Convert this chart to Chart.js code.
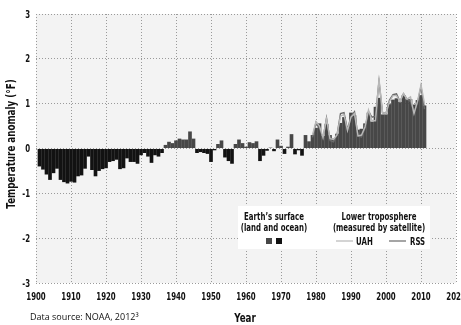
<!DOCTYPE html>
<html>
<head>
<meta charset="utf-8">
<script src="https://cdn.jsdelivr.net/npm/chart.js@4.4.0/dist/chart.umd.min.js"></script>
<style>
  html, body { margin: 0; padding: 0; background: #fff; }
  #wrap { width: 461px; height: 325px; }
</style>
</head>
<body>
<div id="wrap"><canvas id="chart"></canvas></div>
<script>
// Global temperature anomaly (°F) — surface bars + satellite troposphere lines

const FONT    = "'DejaVu Sans', sans-serif";
const SQUEEZE = 0.7;   // horizontal squeeze to fake a bold condensed face
const INK     = '#111';

// ── Data ─────────────────────────────────────────────────────────────────────

const surfaceStart = 1901;
const surfaceF = [
  -0.40, -0.47, -0.58, -0.70, -0.55, -0.45, -0.70, -0.75, -0.78, -0.74, // 1901-1910
  -0.76, -0.62, -0.60, -0.45, -0.18, -0.48, -0.62, -0.50, -0.46, -0.44, // 1911-1920
  -0.30, -0.28, -0.25, -0.46, -0.44, -0.22, -0.30, -0.30, -0.34, -0.15, // 1921-1930
  -0.10, -0.18, -0.32, -0.15, -0.18, -0.10,  0.08,  0.15,  0.12,  0.18, // 1931-1940
   0.22,  0.20,  0.20,  0.38,  0.22, -0.10, -0.08, -0.10, -0.12, -0.30, // 1941-1950
  -0.04,  0.10,  0.18, -0.20, -0.28, -0.34,  0.10,  0.20,  0.12,  0.04, // 1951-1960
   0.14,  0.12,  0.16, -0.28, -0.16, -0.05,  0.02, -0.06,  0.20,  0.06, // 1961-1970
  -0.12,  0.04,  0.32, -0.13, -0.04, -0.16,  0.30,  0.16,  0.30,  0.46, // 1971-1980
   0.56,  0.28,  0.55,  0.30,  0.22,  0.33,  0.57,  0.70,  0.49,  0.80, // 1981-1990
   0.74,  0.42,  0.44,  0.56,  0.80,  0.60,  0.93,  1.13,  0.76,  0.76, // 1991-2000
   0.99,  1.09,  1.12,  1.04,  1.19,  1.10,  1.10,  0.98,  1.08,  1.19, // 2001-2010
   0.96,                                                                 // 2011
];

const satStart = 1979;
const uahF = [
  0.30, 0.60, 0.50, 0.25, 0.66, 0.22, 0.20, 0.30, 0.72, 0.76, // 1979-1988
  0.40, 0.70, 0.78, 0.28, 0.30, 0.48, 0.86, 0.62, 0.62, 1.55, // 1989-1998
  0.80, 0.78, 1.05, 1.18, 1.18, 1.05, 1.22, 1.10, 1.15, 0.78, // 1999-2008
  1.05, 1.42, 1.00,                                           // 2009-2011
];
const rssF = [
  0.25, 0.58, 0.45, 0.22, 0.68, 0.18, 0.15, 0.30, 0.78, 0.80,
  0.42, 0.72, 0.82, 0.28, 0.26, 0.45, 0.82, 0.70, 0.72, 1.50,
  0.80, 0.78, 1.08, 1.20, 1.22, 1.05, 1.22, 1.10, 1.05, 0.80,
  1.02, 1.38, 0.88,
];

const xTicks = [1900, 1910, 1920, 1930, 1940, 1950, 1960, 1970, 1980, 1990, 2000, 2010, 2020];
const yTicks = [-3, -2, -1, 0, 1, 2, 3];

const COLORS = {
  warm:  '#474747',
  cool:  '#121212',
  uah:   '#b8b8b8',
  rss:   '#6a6a6a',
  grid:  '#9a9a9a',
  plot:  '#f3f3f3',
};

const toPoints = (start, vals) => vals.map((v, i) => ({ x: start + i, y: v }));

/** Bold text squeezed horizontally around its anchor point */
function squeezedText(ctx, text, x, y, size, align = 'center', angle = 0) {
  ctx.save();
  ctx.translate(x, y);
  if (angle) ctx.rotate(angle);
  ctx.scale(SQUEEZE, 1);
  ctx.font = `bold ${size}px ${FONT}`;
  ctx.textAlign = align;
  ctx.textBaseline = 'alphabetic';
  ctx.fillStyle = INK;
  ctx.fillText(text, 0, 0);
  ctx.restore();
}

// ── Plugin: plot tint, legend box, axis text, source note ────────────────────

const notesPlugin = {
  id: 'notes',
  beforeDraw(chart) {
    const { ctx, chartArea: a } = chart;
    ctx.save();
    ctx.fillStyle = COLORS.plot;
    ctx.fillRect(a.left, a.top, a.right - a.left, a.bottom - a.top);
    ctx.restore();
  },
  afterDatasetsDraw(chart) {
    const { ctx } = chart;
    ctx.save();
    ctx.fillStyle = '#fff';
    ctx.fillRect(238, 206, 192, 43);

    squeezedText(ctx, 'Earth\u2019s surface', 274, 220, 10);
    squeezedText(ctx, '(land and ocean)', 274, 231, 10);
    squeezedText(ctx, 'Lower troposphere', 379, 220, 10);
    squeezedText(ctx, '(measured by satellite)', 379, 231, 10);

    // surface swatches
    ctx.fillStyle = COLORS.warm;
    ctx.fillRect(266, 238, 6, 6);
    ctx.fillStyle = COLORS.cool;
    ctx.fillRect(276, 238, 6, 6);

    // satellite line samples
    ctx.lineWidth = 1.2;
    ctx.strokeStyle = COLORS.uah;
    ctx.beginPath(); ctx.moveTo(336, 241); ctx.lineTo(353, 241); ctx.stroke();
    ctx.strokeStyle = COLORS.rss;
    ctx.beginPath(); ctx.moveTo(389, 241); ctx.lineTo(406, 241); ctx.stroke();

    squeezedText(ctx, 'UAH', 356, 245, 10, 'left');
    squeezedText(ctx, 'RSS', 410, 245, 10, 'left');
    ctx.restore();
  },
  afterDraw(chart) {
    const { ctx, scales: { x, y }, chartArea: a } = chart;

    xTicks.forEach(v => squeezedText(ctx, String(v), x.getPixelForValue(v), 300, 10));
    yTicks.forEach(v => squeezedText(ctx, String(v), 30, y.getPixelForValue(v) + 3.5, 10, 'right'));

    squeezedText(ctx, 'Year', (a.left + a.right) / 2 - 1, 322, 12.5);
    squeezedText(ctx, 'Temperature anomaly (\u00b0F)', 15, 144, 12.5, 'center', -Math.PI / 2);

    ctx.save();
    ctx.fillStyle = INK;
    ctx.font = "9px 'Open Sans', sans-serif";
    ctx.textAlign = 'left';
    ctx.textBaseline = 'alphabetic';
    ctx.fillText('Data source: NOAA, 2012\u00b3', 30, 320);
    ctx.restore();
  },
};

// ── Chart ────────────────────────────────────────────────────────────────────

const dotted = {
  color: COLORS.grid,
  lineWidth: 1,
  drawTicks: false,
  offset: false,
};
const dottedBorder = { display: false, dash: [1, 2] };

new Chart(document.getElementById('chart'), {
  type: 'bar',
  data: {
    datasets: [
      {
        type: 'line',
        label: 'RSS',
        data: toPoints(satStart, rssF),
        borderColor: COLORS.rss,
        borderWidth: 1.4,
        pointRadius: 0,
        tension: 0,
        order: 1,
      },
      {
        type: 'line',
        label: 'UAH',
        data: toPoints(satStart, uahF),
        borderColor: COLORS.uah,
        borderWidth: 1.4,
        pointRadius: 0,
        tension: 0,
        order: 0,
      },
      {
        label: 'Earth\u2019s surface',
        data: toPoints(surfaceStart, surfaceF),
        backgroundColor: ctx => (ctx.raw && ctx.raw.y >= 0 ? COLORS.warm : COLORS.cool),
        borderWidth: 0,
        barPercentage: 1.05,
        categoryPercentage: 1,
        order: 2,
      },
    ],
  },
  options: {
    responsive: true,
    maintainAspectRatio: false,
    animation: false,
    layout: { padding: { top: 14, right: 5, left: 0, bottom: 0 } },
    plugins: {
      legend: { display: false },
      tooltip: { enabled: false },
    },
    scales: {
      x: {
        type: 'linear',
        min: 1900,
        max: 2020,
        offset: false,
        afterBuildTicks: s => { s.ticks = xTicks.map(v => ({ value: v })); },
        afterFit: s => { s.height = 42; s.paddingLeft = 0; s.paddingRight = 0; },
        grid: dotted,
        border: dottedBorder,
        ticks: { display: false },
      },
      y: {
        min: -3,
        max: 3,
        afterBuildTicks: s => { s.ticks = yTicks.map(v => ({ value: v })); },
        afterFit: s => { s.width = 36; s.paddingTop = 0; s.paddingBottom = 0; },
        grid: dotted,
        border: dottedBorder,
        ticks: { display: false },
      },
    },
  },
  plugins: [notesPlugin],
});
</script>
</body>
</html>
